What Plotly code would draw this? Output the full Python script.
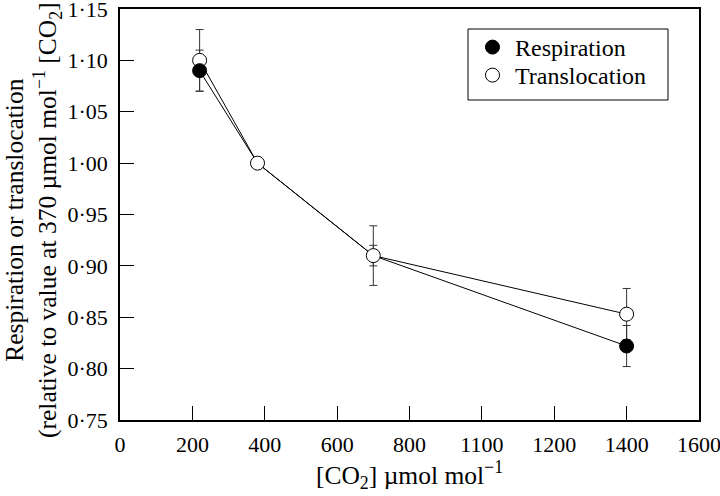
import plotly.graph_objects as go

# ---- data ----
co2 = [220, 380, 700, 1400]
respiration = [1.09, 1.00, 0.91, 0.822]
respiration_err = [0.02, 0.0, 0.01, 0.02]
translocation = [1.10, 1.00, 0.91, 0.853]
translocation_err = [0.03, 0.0, 0.029, 0.025]

x_tickvals = [0, 200, 400, 600, 800, 1000, 1200, 1400, 1600]
x_ticktext = ["0", "200", "400", "600", "800", "1100", "1200", "1400", "1600"]
y_tickvals = [0.75, 0.80, 0.85, 0.90, 0.95, 1.00, 1.05, 1.10, 1.15]
y_ticktext = [f"{v:.2f}".replace(".", "\u00b7") for v in y_tickvals]

FONT = "Liberation Serif"
TICK_FS = 22
TITLE_FS = 25.5
LEG_FS = 24
L, R, T, B = 120, 21, 9, 76
W, H = 720, 496
pw = W - L - R
ph = H - T - B


def px_x(v):
    return (v - L) / pw


def px_y(v):
    return (H - B - v) / ph


fig = go.Figure()

# connecting lines
fig.add_trace(go.Scatter(x=co2, y=respiration, mode="lines",
                         line=dict(color="black", width=1), showlegend=False, hoverinfo="skip"))
fig.add_trace(go.Scatter(x=co2, y=translocation, mode="lines",
                         line=dict(color="black", width=1), showlegend=False, hoverinfo="skip"))
# respiration error bars (drawn beneath open markers)
fig.add_trace(go.Scatter(x=co2, y=respiration, mode="markers",
                         marker=dict(size=1, opacity=0),
                         error_y=dict(type="data", array=respiration_err, visible=True,
                                      color="#333333", thickness=1, width=4),
                         showlegend=False, hoverinfo="skip"))
# translocation markers (open)
fig.add_trace(go.Scatter(x=co2, y=translocation, mode="markers",
                         marker=dict(size=14, color="white", symbol="circle",
                                     line=dict(color="black", width=1)),
                         error_y=dict(type="data", array=translocation_err, visible=True,
                                      color="#333333", thickness=1, width=4),
                         showlegend=False))
# respiration markers (filled); the 380 and 700 points sit under the open circles
fig.add_trace(go.Scatter(x=[co2[0], co2[3]], y=[respiration[0], respiration[3]], mode="markers",
                         marker=dict(size=14, color="black", symbol="circle",
                                     line=dict(color="black", width=1)),
                         showlegend=False))

# legend entries (one legend each for exact spacing)
fig.add_trace(go.Scatter(x=[None], y=[None], mode="markers", name="Respiration", legend="legend",
                         marker=dict(size=14, color="black", line=dict(color="black", width=1))))
fig.add_trace(go.Scatter(x=[None], y=[None], mode="markers", name="Translocation", legend="legend2",
                         marker=dict(size=14, color="white", line=dict(color="black", width=1))))

axis_common = dict(showline=True, mirror=True, linecolor="black", linewidth=1.5,
                   ticks="inside", ticklen=14, tickwidth=1, tickcolor="black",
                   showgrid=False, zeroline=False, ticklabeloverflow="allow",
                   tickfont=dict(family=FONT, size=TICK_FS, color="black"))

leg_common = dict(xanchor="left", yanchor="top", borderwidth=0, bgcolor="rgba(0,0,0,0)",
                  itemwidth=35, font=dict(family=FONT, size=LEG_FS, color="black"))

fig.update_layout(
    width=W, height=H,
    margin=dict(l=L, r=R, t=T, b=B, autoexpand=False),
    paper_bgcolor="white", plot_bgcolor="white",
    font=dict(family=FONT, size=TICK_FS, color="black"),
    xaxis=dict(range=[0, 1600], tickmode="array", tickvals=x_tickvals, ticktext=x_ticktext,
               ticklabelstandoff=4,
               title=dict(text="[CO<sub>2</sub>] \u00b5mol mol<sup>\u22121</sup>",
                          font=dict(family=FONT, size=TITLE_FS), standoff=5),
               **axis_common),
    yaxis=dict(range=[0.75, 1.15], tickmode="array", tickvals=y_tickvals, ticktext=y_ticktext,
               ticklabelstandoff=6,
               **axis_common),
    legend=dict(x=px_x(470), y=px_y(25), **leg_common),
    legend2=dict(x=px_x(470), y=px_y(53), **leg_common),
    shapes=[dict(type="rect", xref="paper", yref="paper",
                 x0=px_x(468), x1=px_x(668), y0=px_y(100), y1=px_y(29),
                 line=dict(color="black", width=1), fillcolor="rgba(0,0,0,0)", layer="above")],
    annotations=[dict(
        text="Respiration or translocation<br>(relative to value at 370 \u00b5mol mol<sup>\u22121</sup> [CO<sub>2</sub>]",
        xref="paper", yref="paper", x=px_x(33), y=px_y(220),
        xanchor="center", yanchor="middle", textangle=-90, showarrow=False,
        font=dict(family=FONT, size=TITLE_FS, color="black"))],
    showlegend=True,
)

fig.write_html("out.html", config={"displayModeBar": False},
               post_script="document.body.style.margin='0px';")
